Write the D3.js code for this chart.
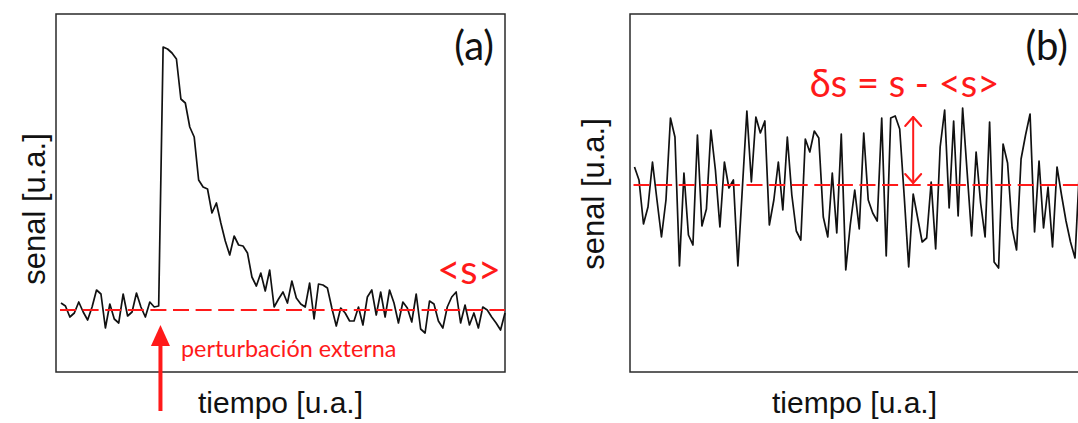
<!DOCTYPE html>
<html>
<head>
<meta charset="utf-8">
<script src="https://cdn.jsdelivr.net/npm/d3@7/dist/d3.min.js"></script>
<style>
  html, body { margin: 0; padding: 0; background: #fff; }
  svg { display: block; }
</style>
</head>
<body>
<svg id="chart" width="1078" height="423"></svg>
<script>
// Señal con perturbación: línea base, pico y relajación (panel a)
const senalA = [
  0.7, 0.4, -0.7, -0.3, 0.8, -0.2, -1.0, 0.3, 2.0, 1.6,
  -1.8, 0.6, -0.9, -1.3, 1.6, -0.6, -0.2, 1.7, 0.3, -0.7,
  0.8, 0.3, 0.4, 26.3, 26.1, 25.7, 25.1, 21.1, 20.7, 18.3,
  17.3, 13.0, 12.3, 12.1, 9.7, 10.7, 8.7, 6.9, 5.5, 7.4,
  6.5, 6.4, 5.7, 3.3, 2.4, 3.7, 1.9, 4.0, 0.3, 1.1,
  1.8, 0.7, 2.9, 1.2, 0.6, 0.3, 2.7, -0.9, 2.6, 2.5,
  2.2, 0.2, -1.6, 0.2, -0.3, -1.1, -1.1, 0.3, -1.5, 1.3,
  2.0, -0.5, 1.8, -0.7, 2.0, 0.7, -1.3, 0.8, 0.2, -1.2,
  1.6, -1.9, -2.3, 0.9, 0.6, -1.1, -1.8, 0.3, 1.3, 1.8,
  -1.3, 0.5, -1.5, -0.3, -1.8, 0.3, 0.0, -0.7, -1.3, -2.0,
  -0.3
];

// Señal fluctuando alrededor de su valor medio (panel b)
const senalB = [
  1.8, 0.5, -3.9, -2.2, 2.3, -1.5, -5.2, -1.5, 6.7, 4.8,
  -8.1, 1.2, -5.0, -6.0, 5.0, -4.1, -2.4, 5.5, 1.5, -4.2,
  2.3, -0.3, 0.5, -8.1, -0.3, 7.4, 0.3, 6.8, 5.2, 6.4,
  -4.0, -1.5, 2.3, -2.5, 4.8, -1.0, -4.6, -5.5, 4.6, 3.3,
  5.4, 4.7, -3.2, -5.2, 1.2, -4.8, 5.1, -8.5, -4.0, -0.5,
  -4.4, 5.2, -1.5, -2.8, -3.6, 6.7, -7.1, 6.7, 6.9, 5.6,
  -1.1, -8.2, -0.9, -3.3, -5.7, -5.3, 0.3, -6.4, 3.8, 7.5,
  -2.3, 6.4, -3.1, 7.7, 1.3, -5.1, 3.3, -1.8, -5.2, 6.3,
  -7.7, -8.3, 4.1, 2.2, -4.3, -6.5, 2.6, 5.0, 7.1, -4.7,
  2.4, -4.3, -0.2, -6.2, 1.8, -1.0, -3.6, -5.7, -7.3, 1.7
];

// Valores medios <s> de cada señal
const mediaA = 0;
const mediaB = 0;

// Rótulos
const etiquetasPanel = ["(a)", "(b)"];
const etiquetaX = "tiempo [u.a.]";
const etiquetaY = "senal [u.a.]";
const etiquetaMedia = "<s>";
const etiquetaPerturbacion = "perturbación externa";
const etiquetaFluctuacion = "δs = s - <s>";

// Muestra en que actúa la perturbación y fluctuación marcada en (b)
const indicePerturbacion = 22.4;
const indiceFluctuacion = [62.0, 6.9];   // [muestra, valor en el extremo superior]

const ROJO = "#ff1a1a";
const fuenteTexto = "Lato, 'Open Sans', sans-serif";
const fuenteEjes = "'Liberation Sans', Arial, sans-serif";

const svg = d3.select("#chart");

// Geometría de los dos paneles
const paneles = [
  { datos: senalA, media: mediaA, marco: [56, 505], trazo: [61, 505], yDom: [-6.2, 29.6],
    etiquetaY: [45, 209] },
  { datos: senalB, media: mediaB, marco: [630, 1079], trazo: [634.5, 1079.5], yDom: [-18.7, 17.1],
    etiquetaY: [604, 194] }
];
const yRango = [372, 14];

paneles.forEach((p, k) => {
  const x = d3.scaleLinear().domain([0, p.datos.length - 1]).range(p.trazo);
  const y = d3.scaleLinear().domain(p.yDom).range(yRango);
  p.x = x; p.y = y;

  const g = svg.append("g");

  // Marco
  g.append("rect")
    .attr("x", p.marco[0]).attr("y", yRango[1])
    .attr("width", p.marco[1] - p.marco[0]).attr("height", yRango[0] - yRango[1])
    .attr("fill", "none").attr("stroke", "#2a2a2a").attr("stroke-width", 1.5);

  // Serie
  g.append("path")
    .datum(p.datos)
    .attr("fill", "none")
    .attr("stroke", "#111")
    .attr("stroke-width", 1.7)
    .attr("stroke-linejoin", "round")
    .attr("d", d3.line().x((d, i) => x(i)).y(d => y(d)));

  // Valor medio <s>
  g.append("line")
    .attr("x1", p.trazo[0] - 1).attr("x2", Math.min(p.marco[1], 1078))
    .attr("y1", y(p.media)).attr("y2", y(p.media))
    .attr("stroke", ROJO).attr("stroke-width", 2)
    .attr("stroke-dasharray", "16,6.6");

  // Rótulo del panel
  g.append("text")
    .attr("x", p.marco[1] - 11).attr("y", 60)
    .attr("text-anchor", "end")
    .attr("font-family", fuenteTexto)
    .attr("font-size", 40)
    .attr("fill", "#111")
    .text(etiquetasPanel[k]);

  // Eje x
  g.append("text")
    .attr("x", (p.marco[0] + p.marco[1]) / 2).attr("y", 413)
    .attr("text-anchor", "middle")
    .attr("font-family", fuenteEjes)
    .attr("font-size", 30)
    .attr("fill", "#111")
    .text(etiquetaX);

  // Eje y
  g.append("text")
    .attr("transform", `translate(${p.etiquetaY[0]},${p.etiquetaY[1]}) rotate(-90)`)
    .attr("text-anchor", "middle")
    .attr("font-family", fuenteEjes)
    .attr("font-size", 31)
    .attr("fill", "#111")
    .text(etiquetaY);
});

// Panel (a): <s> y la perturbación externa
{
  const p = paneles[0];
  svg.append("text")
    .attr("x", 469).attr("y", 284)
    .attr("text-anchor", "middle")
    .attr("font-family", fuenteTexto)
    .attr("font-size", 40)
    .attr("fill", ROJO)
    .text(etiquetaMedia);

  const xa = p.x(indicePerturbacion);
  svg.append("line")
    .attr("x1", xa).attr("x2", xa)
    .attr("y1", 411).attr("y2", 340)
    .attr("stroke", ROJO).attr("stroke-width", 4);
  svg.append("path")
    .attr("d", `M${xa},${325} L${xa + 9.5},${346} L${xa - 9.5},${346} Z`)
    .attr("fill", ROJO);

  svg.append("text")
    .attr("x", 181).attr("y", 357)
    .attr("font-family", fuenteTexto)
    .attr("font-size", 23.4)
    .attr("fill", ROJO)
    .text(etiquetaPerturbacion);
}

// Panel (b): fluctuación δs respecto de la media
{
  const p = paneles[1];
  const xf = p.x(indiceFluctuacion[0]);
  const yTop = p.y(indiceFluctuacion[1]);
  const yBase = p.y(p.media);
  const g = svg.append("g")
    .attr("fill", "none").attr("stroke", ROJO).attr("stroke-width", 2)
    .attr("stroke-linecap", "round").attr("stroke-linejoin", "round");
  g.append("line").attr("x1", xf).attr("x2", xf).attr("y1", yTop + 1).attr("y2", yBase - 2);
  g.append("path").attr("d", `M${xf - 8},${yTop + 10} L${xf},${yTop + 1} L${xf + 8},${yTop + 10}`);
  g.append("path").attr("d", `M${xf - 8},${yBase - 11} L${xf},${yBase - 2} L${xf + 8},${yBase - 11}`);

  svg.append("text")
    .attr("x", 904.5).attr("y", 97)
    .attr("text-anchor", "middle")
    .attr("font-family", fuenteTexto)
    .attr("font-size", 38)
    .attr("fill", ROJO)
    .text(etiquetaFluctuacion);
}
</script>
</body>
</html>
